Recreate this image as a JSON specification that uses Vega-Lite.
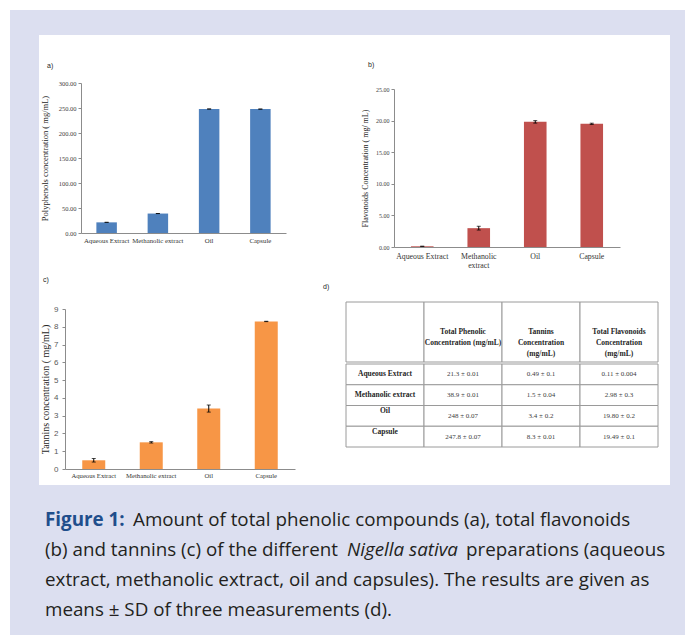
{
  "$schema": "https://vega.github.io/schema/vega-lite/v6.json",
  "background": "white",
  "padding": {"left": 10, "top": 10, "right": 0, "bottom": 0},
  "config": {
    "view": {"stroke": null},
    "axis": {"grid": false, "domainColor": "#8c8c8c", "tickColor": "#8c8c8c", "labelFont": "Liberation Serif", "titleFont": "Liberation Serif", "labelColor": "#404040", "titleColor": "#262626", "titleFontWeight": "normal"},
    "title": {"font": "Liberation Sans", "fontSize": 7, "fontWeight": "normal", "color": "#262626", "anchor": "start", "frame": "group"}
  },
  "datasets": {
    "blank": [{}],
    "extracts": [
      {"sample": "Aqueous Extract", "phenolic": 21.3, "phenolic_sd": 0.01, "tannins": 0.49, "tannins_sd": 0.1, "flavonoids": 0.11, "flavonoids_sd": 0.004},
      {"sample": "Methanolic extract", "phenolic": 38.9, "phenolic_sd": 0.01, "tannins": 1.5, "tannins_sd": 0.04, "flavonoids": 2.98, "flavonoids_sd": 0.3},
      {"sample": "Oil", "phenolic": 248, "phenolic_sd": 0.07, "tannins": 3.4, "tannins_sd": 0.2, "flavonoids": 19.8, "flavonoids_sd": 0.2},
      {"sample": "Capsule", "phenolic": 247.8, "phenolic_sd": 0.07, "tannins": 8.3, "tannins_sd": 0.01, "flavonoids": 19.49, "flavonoids_sd": 0.1}
    ],
    "tableHeader": [
      {"part": "head", "col": "label", "text": ""},
      {"part": "head", "col": "phenolic", "text": "Total Phenolic\nConcentration (mg/mL)"},
      {"part": "head", "col": "tannins", "text": "Tannins\nConcentration\n(mg/mL)"},
      {"part": "head", "col": "flavonoids", "text": "Total Flavonoids\nConcentration\n(mg/mL)"}
    ],
    "tableBody": [
      {"row": "Aqueous Extract", "col": "label", "text": "Aqueous Extract"},
      {"row": "Aqueous Extract", "col": "phenolic", "text": "21.3 ± 0.01"},
      {"row": "Aqueous Extract", "col": "tannins", "text": "0.49 ± 0.1"},
      {"row": "Aqueous Extract", "col": "flavonoids", "text": "0.11 ± 0.004"},
      {"row": "Methanolic extract", "col": "label", "text": "Methanolic extract"},
      {"row": "Methanolic extract", "col": "phenolic", "text": "38.9 ± 0.01"},
      {"row": "Methanolic extract", "col": "tannins", "text": "1.5 ± 0.04"},
      {"row": "Methanolic extract", "col": "flavonoids", "text": "2.98 ± 0.3"},
      {"row": "Oil", "col": "label", "text": "Oil"},
      {"row": "Oil", "col": "phenolic", "text": "248 ± 0.07"},
      {"row": "Oil", "col": "tannins", "text": "3.4 ± 0.2"},
      {"row": "Oil", "col": "flavonoids", "text": "19.80 ± 0.2"},
      {"row": "Capsule", "col": "label", "text": "Capsule"},
      {"row": "Capsule", "col": "phenolic", "text": "247.8 ± 0.07"},
      {"row": "Capsule", "col": "tannins", "text": "8.3 ± 0.01"},
      {"row": "Capsule", "col": "flavonoids", "text": "19.49 ± 0.1"}
    ],
    "caption": [
      {"line": 1, "seg": "fig", "text": "Figure 1:"},
      {"line": 1, "seg": "l1", "text": "Amount of total phenolic compounds (a), total flavonoids"},
      {"line": 2, "seg": "plain", "text": "(b) and tannins (c) of the different"},
      {"line": 2, "seg": "ital", "text": "Nigella sativa"},
      {"line": 2, "seg": "l2", "text": "preparations (aqueous"},
      {"line": 3, "seg": "plain", "text": "extract, methanolic extract, oil and capsules). The results are given as"},
      {"line": 4, "seg": "plain", "text": "means ± SD of three measurements (d)."}
    ]
  },
  "spacing": 0,
  "vconcat": [
    {"width": 675, "height": 25, "view": {"fill": "#dcdff0"}, "data": {"name": "blank"}, "mark": {"type": "point", "opacity": 0, "size": 1}},
    {
      "spacing": 11,
      "hconcat": [
        {
          "spacing": 0,
          "hconcat": [
            {"width": 29, "height": 450, "view": {"fill": "#dcdff0"}, "data": {"name": "blank"}, "mark": {"type": "point", "opacity": 0, "size": 1}},
            {
              "spacing": 5,
              "vconcat": [
                {
                  "spacing": 0,
                  "hconcat": [
                    {"width": 1, "height": 1, "data": {"name": "blank"}, "mark": {"type": "point", "opacity": 0, "size": 1}},
                    {
                      "spacing": 75,
                      "hconcat": [
                        {
                          "spacing": 26,
                          "vconcat": [
                            {"width": 1, "height": 1, "data": {"name": "blank"}, "mark": {"type": "point", "opacity": 0, "size": 1}},
                            {
                              "title": {"text": "a)", "dx": -34, "offset": 11},
                              "width": 205, "height": 150,
                              "data": {"name": "extracts"},
                              "encoding": {
                                "x": {"field": "sample", "type": "nominal", "sort": null, "scale": {"paddingInner": 0.6, "paddingOuter": 0.3},
                                      "axis": {"title": null, "labelAngle": 0, "ticks": false, "labelFontSize": 6.8, "labelPadding": 4.5, "labelColor": "#333333"}},
                                "y": {"field": "phenolic", "type": "quantitative", "scale": {"domain": [0, 300]},
                                      "axis": {"title": "Polyphenols  concentration ( mg/mL)", "titleFontSize": 8.5, "titlePadding": 5, "values": [0, 50, 100, 150, 200, 250, 300], "format": ".2f", "labelFontSize": 6.5, "tickSize": 3, "labelPadding": 2, "minExtent": 27, "maxExtent": 27}}
                              },
                              "layer": [
                                {"mark": {"type": "bar", "color": "#4f81bd"}},
                                {"mark": {"type": "errorbar", "color": "#000000", "ticks": {"size": 4}}, "encoding": {"yError": {"field": "phenolic_sd"}}}
                              ]
                            }
                          ]
                        },
                        {
                          "spacing": 25,
                          "vconcat": [
                            {"width": 1, "height": 1, "data": {"name": "blank"}, "mark": {"type": "point", "opacity": 0, "size": 1}},
                            {
                              "title": {"text": "b)", "dx": -26, "offset": 18},
                              "width": 226, "height": 158,
                              "data": {"name": "extracts"},
                              "encoding": {
                                "x": {"field": "sample", "type": "nominal", "sort": null, "scale": {"paddingInner": 0.6, "paddingOuter": 0.3},
                                      "axis": {"title": null, "labelAngle": 0, "ticks": false, "labelFontSize": 7.8, "labelPadding": 5, "labelLineHeight": 9, "labelColor": "#333333",
                                               "labelExpr": "datum.label == 'Methanolic extract' ? ['Methanolic', 'extract'] : datum.label"}},
                                "y": {"field": "flavonoids", "type": "quantitative", "scale": {"domain": [0, 25]},
                                      "axis": {"title": "Flavonoids Concentration ( mg/ mL)", "titleFontSize": 8, "titlePadding": 3, "values": [0, 5, 10, 15, 20, 25], "format": ".2f", "labelFontSize": 6, "tickSize": 3, "labelPadding": 2, "minExtent": 22, "maxExtent": 22}}
                              },
                              "layer": [
                                {"mark": {"type": "bar", "color": "#c0504d"}},
                                {"mark": {"type": "errorbar", "color": "#000000", "ticks": {"size": 4}}, "encoding": {"yError": {"field": "flavonoids_sd"}}}
                              ]
                            }
                          ]
                        }
                      ]
                    }
                  ]
                },
                {
                  "spacing": 0,
                  "hconcat": [
                    {"width": 1, "height": 1, "data": {"name": "blank"}, "mark": {"type": "point", "opacity": 0, "size": 1}},
                    {
                      "spacing": 28,
                      "hconcat": [
                        {
                          "spacing": 0,
                          "vconcat": [
                            {"width": 1, "height": 1, "data": {"name": "blank"}, "mark": {"type": "point", "opacity": 0, "size": 1}},
                            {
                              "title": {"text": "c)", "dx": -22, "offset": 22.5},
                              "width": 230, "height": 160,
                              "data": {"name": "extracts"},
                              "encoding": {
                                "x": {"field": "sample", "type": "nominal", "sort": null, "scale": {"paddingInner": 0.6, "paddingOuter": 0.3},
                                      "axis": {"title": null, "labelAngle": 0, "ticks": false, "labelFontSize": 6.7, "labelPadding": 3.5, "labelColor": "#333333"}},
                                "y": {"field": "tannins", "type": "quantitative", "scale": {"domain": [0, 9]},
                                      "axis": {"title": "Tannins concentration ( mg/mL)", "titleFontSize": 10, "titlePadding": 3, "values": [0, 1, 2, 3, 4, 5, 6, 7, 8, 9], "format": "d", "labelFont": "Liberation Sans", "labelFontSize": 8, "labelColor": "#595959", "tickSize": 3, "labelPadding": 4, "minExtent": 12, "maxExtent": 12}}
                              },
                              "layer": [
                                {"mark": {"type": "bar", "color": "#f79646"}},
                                {"mark": {"type": "errorbar", "color": "#000000", "ticks": {"size": 4}}, "encoding": {"yError": {"field": "tannins_sd"}}}
                              ]
                            }
                          ]
                        },
                        {
                          "spacing": 8,
                          "vconcat": [
                            {"width": 1, "height": 1, "data": {"name": "blank"}, "mark": {"type": "point", "opacity": 0, "size": 1}},
                            {
                              "title": {"text": "d)", "dx": -23, "offset": 11.5},
                              "spacing": 0,
                              "vconcat": [
                                {
                                  "width": 312, "height": 60,
                                  "data": {"name": "tableHeader"},
                                  "encoding": {
                                    "x": {"field": "col", "type": "nominal", "scale": {"domain": ["label", "phenolic", "tannins", "flavonoids"], "paddingInner": 0, "paddingOuter": 0}, "axis": null},
                                    "y": {"field": "part", "type": "nominal", "scale": {"paddingInner": 0, "paddingOuter": 0}, "axis": null}
                                  },
                                  "layer": [
                                    {"mark": {"type": "rect", "fill": "white", "stroke": "#9a9a9a", "strokeWidth": 1}},
                                    {"mark": {"type": "text", "font": "Liberation Serif", "fontWeight": "bold", "fontSize": 7.5, "lineBreak": "\n", "lineHeight": 11, "color": "#262626", "baseline": "middle"}, "encoding": {"text": {"field": "text"}}}
                                  ]
                                },
                                {
                                  "width": 312, "height": 83,
                                  "data": {"name": "tableBody"},
                                  "encoding": {
                                    "x": {"field": "col", "type": "nominal", "scale": {"domain": ["label", "phenolic", "tannins", "flavonoids"], "paddingInner": 0, "paddingOuter": 0}, "axis": null},
                                    "y": {"field": "row", "type": "nominal", "scale": {"domain": ["Aqueous Extract", "Methanolic extract", "Oil", "Capsule"], "paddingInner": 0, "paddingOuter": 0}, "axis": null}
                                  },
                                  "layer": [
                                    {"mark": {"type": "rect", "fill": "white", "stroke": "#9a9a9a", "strokeWidth": 1}},
                                    {"transform": [{"filter": "datum.col == 'label' && (datum.row == 'Aqueous Extract' || datum.row == 'Methanolic extract')"}],
                                     "mark": {"type": "text", "font": "Liberation Serif", "fontWeight": "bold", "fontSize": 7.5, "color": "#262626", "baseline": "middle"}, "encoding": {"text": {"field": "text"}}},
                                    {"transform": [{"filter": "datum.col == 'label' && (datum.row == 'Oil' || datum.row == 'Capsule')"}],
                                     "mark": {"type": "text", "font": "Liberation Serif", "fontWeight": "bold", "fontSize": 7.5, "color": "#262626", "baseline": "middle", "dy": -5}, "encoding": {"text": {"field": "text"}}},
                                    {"transform": [{"filter": "datum.col != 'label'"}],
                                     "mark": {"type": "text", "font": "Liberation Serif", "fontSize": 7, "color": "#404040", "baseline": "middle"}, "encoding": {"text": {"field": "text"}}}
                                  ]
                                }
                              ]
                            }
                          ]
                        }
                      ]
                    }
                  ]
                }
              ]
            }
          ]
        },
        {"width": 16, "height": 450, "view": {"fill": "#dcdff0"}, "data": {"name": "blank"}, "mark": {"type": "point", "opacity": 0, "size": 1}}
      ]
    },
    {
      "width": 675, "height": 150,
      "view": {"fill": "#dcdff0"},
      "data": {"name": "caption"},
      "encoding": {
        "y": {"field": "line", "type": "ordinal", "scale": {"type": "point", "padding": 1.385, "align": 0.583}, "axis": null},
        "text": {"field": "text"}
      },
      "layer": [
        {"transform": [{"filter": "datum.seg == 'fig'"}], "mark": {"type": "text", "font": "Open Sans", "fontSize": 18.8, "fontWeight": "bold", "color": "#1f4e8c", "align": "left", "baseline": "middle"}, "encoding": {"x": {"value": 35}}},
        {"transform": [{"filter": "datum.seg == 'l1'"}], "mark": {"type": "text", "font": "Open Sans", "fontSize": 18.8, "color": "#231f20", "align": "left", "baseline": "middle"}, "encoding": {"x": {"value": 123}}},
        {"transform": [{"filter": "datum.seg == 'plain'"}], "mark": {"type": "text", "font": "Open Sans", "fontSize": 18.8, "color": "#231f20", "align": "left", "baseline": "middle"}, "encoding": {"x": {"value": 35}}},
        {"transform": [{"filter": "datum.seg == 'ital'"}], "mark": {"type": "text", "font": "Open Sans", "fontSize": 18.8, "fontStyle": "italic", "color": "#231f20", "align": "left", "baseline": "middle"}, "encoding": {"x": {"value": 337}}},
        {"transform": [{"filter": "datum.seg == 'l2'"}], "mark": {"type": "text", "font": "Open Sans", "fontSize": 18.8, "color": "#231f20", "align": "left", "baseline": "middle"}, "encoding": {"x": {"value": 456}}}
      ]
    }
  ]
}
